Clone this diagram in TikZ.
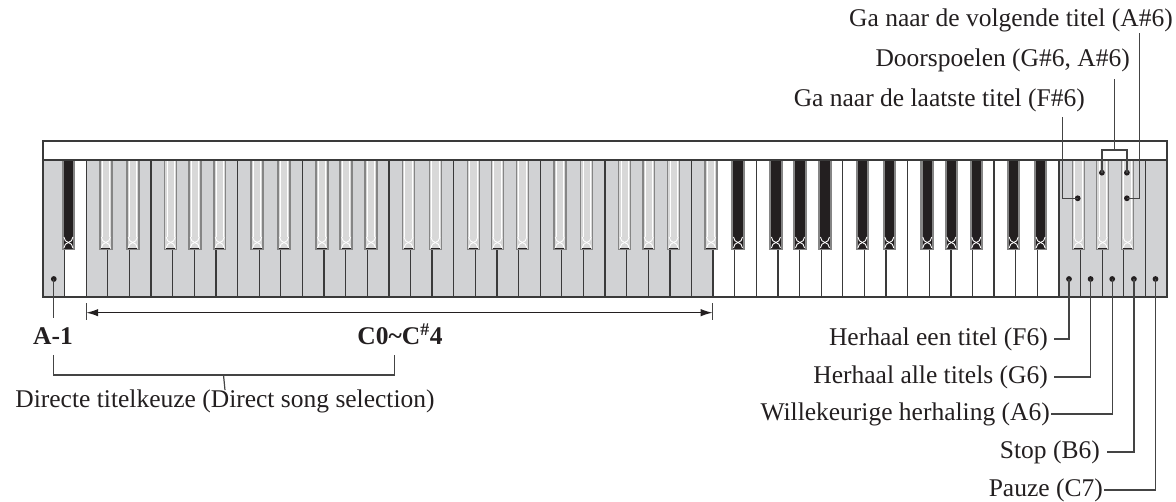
\documentclass[tikz,border=0pt]{standalone}
\usepackage{fontspec}
\setmainfont{Liberation Serif}
\usetikzlibrary{arrows.meta,calc}
\definecolor{keygrey}{HTML}{D1D2D4}
\definecolor{ink}{HTML}{231F20}
\definecolor{bkedge}{HTML}{858585}
\definecolor{lkfill}{HTML}{D8D8D8}
\definecolor{wire}{HTML}{444444}
\definecolor{framec}{HTML}{3A3A3A}
\newcommand\hglass[1]{%
  \draw[white, line width=0.9pt] ({#1-4.5},237) to[out=-75,in=180] ({#1},242.5) to[out=0,in=-105] ({#1+4.5},237);
  \draw[white, line width=0.9pt] ({#1-4.5},248) to[out=75,in=180] ({#1},242.5) to[out=0,in=105] ({#1+4.5},248);
}
\newcommand\darkkey[1]{%
  \fill[bkedge] ({#1-6.75},160) rectangle ({#1+6.75},250);
  \fill[ink] ({#1-4.6},161) rectangle ({#1+4.6},248.6);
  \hglass{#1}
}
\newcommand\lightkey[1]{%
  \fill[bkedge] ({#1-6.75},160) rectangle ({#1+6.75},250);
  \fill[lkfill] ({#1-5.2},161) rectangle ({#1+5.2},248.8);
  \draw[white, line width=0.8pt] ({#1-3.7},160) -- ({#1-3.7},237) ({#1+3.7},160) -- ({#1+3.7},237);
  \hglass{#1}
  \draw[ink, line width=0.8pt] ({#1-4.6},248.2) -- ({#1+4.6},248.2);
}
\begin{document}
\begin{tikzpicture}[x=1pt,y=-1pt,
  lbl/.style={inner sep=0pt, text=ink, font=\fontsize{25.5}{30}\selectfont},
  blbl/.style={inner sep=0pt, text=ink, font=\fontsize{25.5}{30}\selectfont\bfseries},
  dot/.style={circle, fill=ink, inner sep=0pt, minimum size=5.8pt},
  wireline/.style={draw=wire, line width=1.2pt},
  divider/.style={draw=framec, line width=1.3pt},
  >={Latex[length=12pt,width=7.5pt]}]
\useasboundingbox (0,0) rectangle (1176,502);
\def\xo{43}
\def\kw{21.6154}
% white keys
\foreach \i in {0,...,51}{
  \pgfmathtruncatemacro\sel{(\i==0)||((\i>1)&&(\i<31))||(\i>46)}
  \ifnum\sel=1 \def\kc{keygrey}\else\def\kc{white}\fi
  \fill[\kc] ({\xo+\i*\kw},160) rectangle ({\xo+(\i+1)*\kw},297);
}
% dividers
\foreach \k in {1,...,51}{
  \pgfmathtruncatemacro\n{mod(\k-1,7)}
  \ifnum\n=1 \def\ytop{160}\else\ifnum\n=4 \def\ytop{160}\else\def\ytop{250}\fi\fi
  \draw[divider] ({\xo+\k*\kw},\ytop) -- ({\xo+\k*\kw},297);
}
% black keys
\foreach \i in {0,...,50}{
  \pgfmathtruncatemacro\n{mod(\i,7)}
  \ifnum\n=1 \else\ifnum\n=4 \else
    \pgfmathsetmacro\off{\n==0 ? 3.8 : (\n==2 ? -2 : (\n==3 ? 3.3 : (\n==5 ? -2 : 0.5)))}
    \pgfmathsetmacro\cx{\xo+(\i+1)*\kw+\off}
    \pgfmathtruncatemacro\lt{((\i>1)&&(\i<31))||((\i>46)&&(\i<50))}
    \ifnum\lt=1 \lightkey{\cx}\else\darkkey{\cx}\fi
  \fi\fi
}
% frame
\draw[framec, line width=1.8pt] (43,141) rectangle (1167,297);
\draw[framec, line width=1.3pt] (43,160) -- (1167,160);

% dots
\node[dot] (dA1) at (53.8,279) {};
\node[dot] (dF6) at (1069.0,279) {};
\node[dot] (dG6) at (1090.6,279) {};
\node[dot] (dA6) at (1112.2,279) {};
\node[dot] (dB6) at (1133.9,279) {};
\node[dot] (dC7) at (1155.5,279) {};
\node[dot] (dFs6) at (1077.7,198.3) {};
\node[dot] (dGs6) at (1101.9,172.7) {};
\node[dot] (dAs6a) at (1126.9,172.7) {};
\node[dot] (dAs6b) at (1126.9,198.3) {};

% top labels
\node[lbl, anchor=base east] (lNext) at (1173,27) {Ga naar de volgende titel (A\#6)};
\node[lbl, anchor=base east] (lDoor) at (1130,67) {Doorspoelen (G\#6, A\#6)};
\node[lbl, anchor=base east] (lLast) at (1085,107) {Ga naar de laatste titel (F\#6)};
\coordinate (tNext) at (1139.3,33);
\coordinate (tDoor) at (1114.7,79);
\coordinate (tLast) at (1062.7,117);
\coordinate (brk) at (1114.7,150);
\draw[wireline] (dFs6.center) -| (tLast);
\draw[wireline] (dAs6b.center) -| (tNext);
\draw[wireline] (dGs6.center) |- (brk) -| (dAs6a.center);
\draw[wireline] (brk) -- (tDoor);

% bottom right labels
\node[lbl, anchor=east] (lF6) at (1048,339) {Herhaal een titel (F6)};
\node[lbl, anchor=east] (lG6) at (1048,377) {Herhaal alle titels (G6)};
\node[lbl, anchor=east] (lA6) at (1050,414) {Willekeurige herhaling (A6)};
\node[lbl, anchor=east] (lB6) at (1100,452) {Stop (B6)};
\node[lbl, anchor=east] (lC7) at (1103,490) {Pauze (C7)};
\draw[wireline] (dF6.center) |- ([xshift=6pt]lF6.east);
\draw[wireline] (dG6.center) |- ([xshift=6pt]lG6.east);
\draw[wireline] (dA6.center) |- ([xshift=0.5pt]lA6.east);
\draw[wireline] (dB6.center) |- ([xshift=7pt]lB6.east);
\draw[wireline] (dC7.center) |- ([xshift=0.5pt]lC7.east);

% bottom left
\coordinate (eA1) at (53.8,318);
\draw[wireline] (dA1.center) -- (eA1);
\node[blbl, anchor=base] (lA1) at (53,345) {A-1};
\node[blbl, anchor=base] (lC) at (400,345) {C0\char`\~C\textsuperscript{\#}4};
\node[lbl, anchor=base] (lDir) at (225,408) {Directe titelkeuze (Direct song selection)};
\coordinate (bA) at (53.5,355);
\coordinate (bC) at (394.5,355);
\coordinate (bM) at (223.5,375);
\draw[wireline] (bA) |- (bM) -| (bC);
\draw[wireline] (bM) -- (lDir.north);

% range arrow
\coordinate (arL) at (86.2,312.7);
\coordinate (arR) at (712.6,312.7);
\draw[draw=ink, line width=1.3pt, <->] (arL) -- (arR);
\draw[wireline] (arL) ++(0,-9.5) -- ++(0,17);
\draw[wireline] (arR) ++(0,-9.5) -- ++(0,17);
\end{tikzpicture}
\end{document}
